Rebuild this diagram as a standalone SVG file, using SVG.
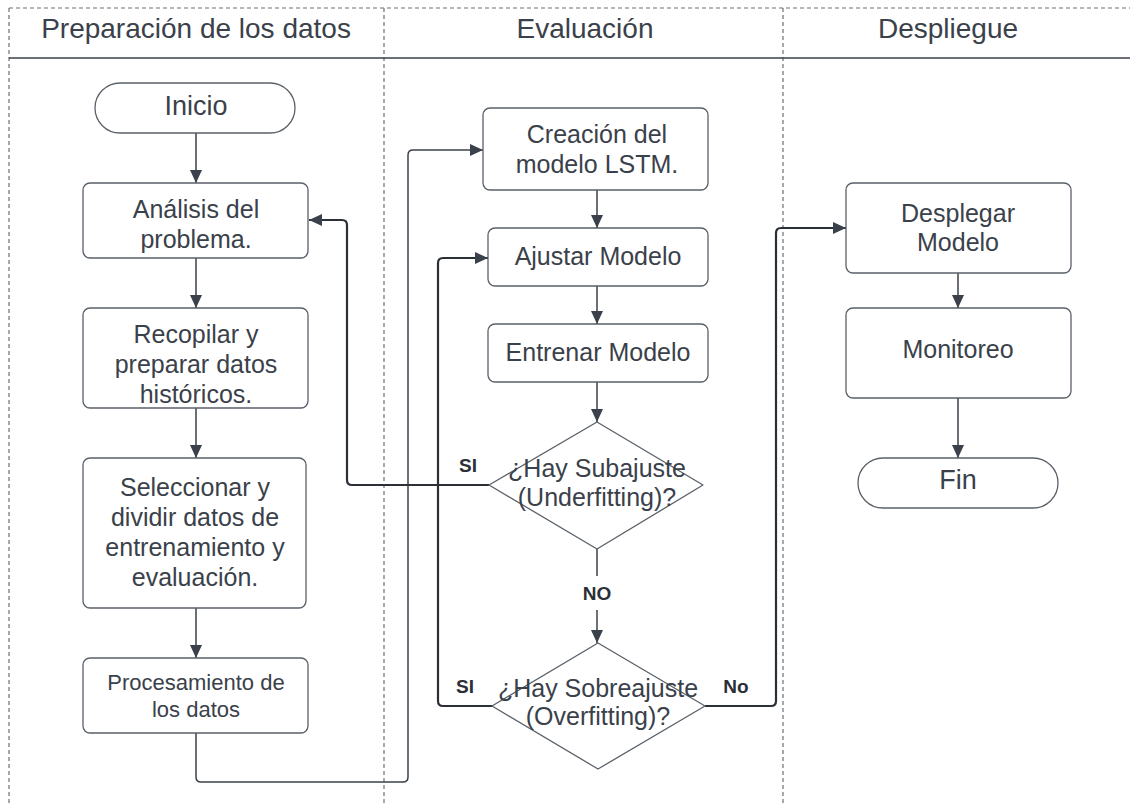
<svg xmlns="http://www.w3.org/2000/svg" width="1130" height="804" viewBox="0 0 1130 804">
<defs>
<marker id="arr" markerUnits="userSpaceOnUse" markerWidth="14" markerHeight="12" refX="13" refY="6" orient="auto">
<path d="M0,0 L13,6 L0,12 Z" fill="#3a414a"/>
</marker>
<style>
.lane{stroke:#6b7078;stroke-width:1.2;stroke-dasharray:4 3;fill:none}
.hdr{stroke:#3a414a;stroke-width:1.5;fill:none}
.box{fill:#ffffff;stroke:#5a6069;stroke-width:1.3}
.t{font-family:"Liberation Sans",Arial,sans-serif;font-size:25px;fill:#3a414a;text-anchor:middle}
.tt{font-family:"Liberation Sans",Arial,sans-serif;font-size:27px;fill:#3a414a;text-anchor:middle}
.ts{font-family:"Liberation Sans",Arial,sans-serif;font-size:22px;fill:#3a414a;text-anchor:middle}
.th{font-family:"Liberation Sans",Arial,sans-serif;font-size:28px;fill:#3a414a;text-anchor:middle}
.lb{font-family:"Liberation Sans",Arial,sans-serif;font-size:19px;font-weight:bold;fill:#2b3037;text-anchor:middle}
.c{stroke:#3a414a;stroke-width:1.5;fill:none}
.ck{stroke:#2b3037;stroke-width:2.2;fill:none}
</style>
</defs>
<rect x="0" y="0" width="1130" height="804" fill="#ffffff"/>
<g id="lanes">
<line class="lane" x1="9" y1="8" x2="1130" y2="8"/>
<line class="lane" x1="9" y1="8" x2="9" y2="804"/>
<line class="lane" x1="384" y1="8" x2="384" y2="804"/>
<line class="lane" x1="783" y1="8" x2="783" y2="804"/>
<line class="hdr" x1="9" y1="58" x2="1130" y2="58"/>
<text class="th" x="196" y="38">Preparación de los datos</text>
<text class="th" x="585" y="38">Evaluación</text>
<text class="th" x="948" y="38">Despliegue</text>
</g>
<g id="connectors">
<path class="c" d="M196 133 V183" marker-end="url(#arr)"/>
<path class="c" d="M196 258 V308" marker-end="url(#arr)"/>
<path class="c" d="M196 408 V458" marker-end="url(#arr)"/>
<path class="c" d="M196 608 V658" marker-end="url(#arr)"/>
<path class="c" d="M196 733 V777 Q196 782 201 782 H403 Q408 782 408 777 V155 Q408 150 413 150 H483" marker-end="url(#arr)"/>
<path class="c" d="M597 190 V228" marker-end="url(#arr)"/>
<path class="c" d="M597 286 V324" marker-end="url(#arr)"/>
<path class="c" d="M597 382 V422" marker-end="url(#arr)"/>
<path class="ck" d="M489 485 H352 Q347 485 347 480 V225 Q347 220 342 220 H309" marker-end="url(#arr)"/>
<path class="c" d="M597 549 V576"/>
<path class="c" d="M597 610 V643" marker-end="url(#arr)"/>
<path class="ck" d="M492 706 H443 Q438 706 438 701 V263 Q438 258 443 258 H488" marker-end="url(#arr)"/>
<path class="ck" d="M705 706 H771 Q776 706 776 701 V233 Q776 228 781 228 H846" marker-end="url(#arr)"/>
<path class="c" d="M958 273 V308" marker-end="url(#arr)"/>
<path class="c" d="M958 398 V458" marker-end="url(#arr)"/>
<text class="lb" x="468" y="472">SI</text>
<text class="lb" x="597" y="600">NO</text>
<text class="lb" x="465" y="693">SI</text>
<text class="lb" x="736" y="693">No</text>
</g>
<g id="inicio">
<rect class="box" x="95" y="83" width="200" height="50" rx="25"/>
<text class="tt" x="196" y="115">Inicio</text>
</g>
<g id="analisis">
<rect class="box" x="83" y="183" width="225" height="75" rx="7"/>
<text class="t" x="196" y="218">Análisis del</text>
<text class="t" x="196" y="248">problema.</text>
</g>
<g id="recopilar">
<rect class="box" x="83" y="308" width="225" height="100" rx="7"/>
<text class="t" x="196" y="343">Recopilar y</text>
<text class="t" x="196" y="373">preparar datos</text>
<text class="t" x="196" y="403">históricos.</text>
</g>
<g id="seleccionar">
<rect class="box" x="83" y="458" width="223" height="150" rx="7"/>
<text class="t" x="195" y="496">Seleccionar y</text>
<text class="t" x="195" y="526">dividir datos de</text>
<text class="t" x="195" y="556">entrenamiento y</text>
<text class="t" x="195" y="586">evaluación.</text>
</g>
<g id="procesamiento">
<rect class="box" x="83" y="658" width="225" height="75" rx="7"/>
<text class="ts" x="196" y="690">Procesamiento de</text>
<text class="ts" x="196" y="717">los datos</text>
</g>
<g id="creacion">
<rect class="box" x="483" y="108" width="225" height="82" rx="7"/>
<text class="t" x="597" y="143">Creación del</text>
<text class="t" x="597" y="173">modelo LSTM.</text>
</g>
<g id="ajustar">
<rect class="box" x="488" y="228" width="220" height="58" rx="7"/>
<text class="t" x="598" y="265">Ajustar Modelo</text>
</g>
<g id="entrenar">
<rect class="box" x="488" y="324" width="220" height="58" rx="7"/>
<text class="t" x="598" y="361">Entrenar Modelo</text>
</g>
<g id="subajuste">
<path class="box" d="M597 422 L703 485 L597 549 L489 485 Z" stroke-linejoin="round"/>
<text class="t" x="597" y="477">¿Hay Subajuste</text>
<text class="t" x="597" y="506">(Underfitting)?</text>
</g>
<g id="sobreajuste">
<path class="box" d="M598 643 L705 706 L598 769 L492 706 Z" stroke-linejoin="round"/>
<text class="t" x="598" y="697">¿Hay Sobreajuste</text>
<text class="t" x="598" y="725">(Overfitting)?</text>
</g>
<g id="desplegar">
<rect class="box" x="846" y="183" width="225" height="90" rx="7"/>
<text class="t" x="958" y="222">Desplegar</text>
<text class="t" x="958" y="251">Modelo</text>
</g>
<g id="monitoreo">
<rect class="box" x="846" y="308" width="225" height="90" rx="7"/>
<text class="t" x="958" y="358">Monitoreo</text>
</g>
<g id="fin">
<rect class="box" x="858" y="458" width="200" height="50" rx="25"/>
<text class="tt" x="958" y="489">Fin</text>
</g>
</svg>
